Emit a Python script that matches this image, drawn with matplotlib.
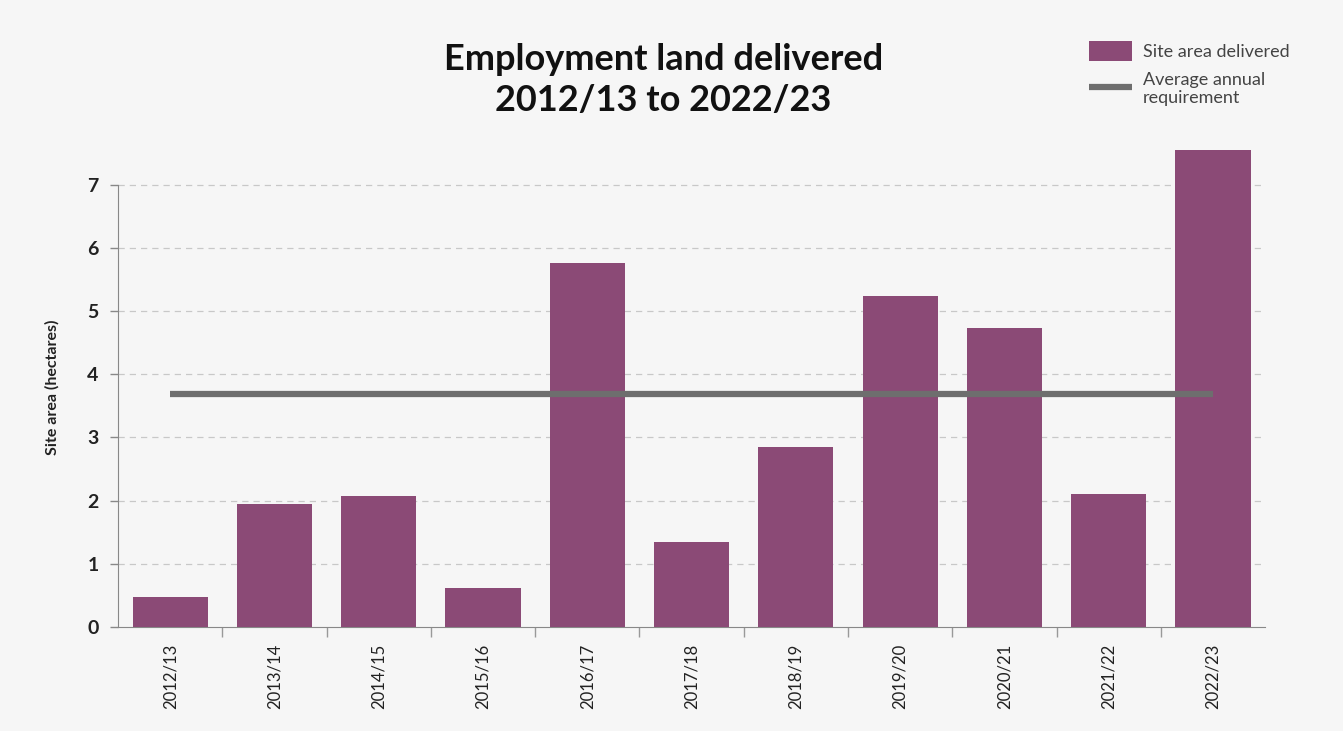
import matplotlib.pyplot as plt
import numpy as np

# Employment land delivered per monitoring year (hectares)
years = ["2012/13", "2013/14", "2014/15", "2015/16", "2016/17", "2017/18",
         "2018/19", "2019/20", "2020/21", "2021/22", "2022/23"]
site_area = [0.47, 1.95, 2.07, 0.62, 5.76, 1.34, 2.85, 5.24, 4.73, 2.10, 7.55]
requirement = 3.69  # average annual requirement

bar_colour = "#8b4a76"
line_colour = "#6e6e6e"
bg = "#f6f6f6"

plt.rcParams['font.family'] = ['Lato', 'DejaVu Sans']

fig = plt.figure(figsize=(13.43, 7.31), dpi=100, facecolor=bg)
ax = fig.add_axes([0.0879, 0.1423, 0.8541, 0.657])
ax.set_facecolor(bg)

x = np.arange(len(years))
bars = ax.bar(x, site_area, width=0.72, color=bar_colour, zorder=3,
              label="Site area delivered")
req_line, = ax.plot([x[0], x[-1]], [requirement, requirement], color=line_colour,
                    lw=4.5, solid_capstyle="butt", zorder=4,
                    label="Average annual\nrequirement")

ax.set_xlim(-0.5, len(years) - 0.5)
ax.set_ylim(0, 7.6)

# Dashed gridlines at each whole hectare
for y in range(1, 8):
    ax.axhline(y, color="#c8c8c8", lw=0.9, ls=(0, (5, 4)), zorder=1)

ax.set_yticks(range(0, 8))
ax.set_yticklabels([str(v) for v in range(0, 8)], fontsize=14, fontweight="bold",
                   color="#222222")
ax.tick_params(axis="y", length=6, width=1, color="#888888", pad=8)

# Category ticks sit between the bars, labels under the bar centres
ax.set_xticks(x[:-1] + 0.5)
ax.set_xticklabels([])
ax.set_xticks(x, minor=True)
ax.set_xticklabels(years, minor=True, rotation=90, fontsize=12, color="#222222")
ax.tick_params(axis="x", which="major", length=7, width=1, color="#999999")
ax.tick_params(axis="x", which="minor", length=0, pad=12)

for side in ["top", "right"]:
    ax.spines[side].set_visible(False)
ax.spines["left"].set_bounds(0, 7)
ax.spines["left"].set_color("#888888")
ax.spines["bottom"].set_color("#888888")

ax.set_ylabel("Site area (hectares)", fontsize=11.5, fontweight="bold",
              color="#222222", labelpad=20)

fig.text(0.494, 0.890, "Employment land delivered\n2012/13 to 2022/23",
         ha="center", va="center", fontsize=26, fontweight="bold",
         color="#111111", linespacing=1.3)

leg = ax.legend(handles=[bars, req_line], loc="upper left",
                bbox_to_anchor=(0.84, 1.235), frameon=False,
                fontsize=13, handlelength=2.4, handleheight=1.3,
                handletextpad=0.6, labelspacing=0.6, borderaxespad=0)
for t in leg.get_texts():
    t.set_color("#444444")

fig.savefig("out.png", dpi=100, facecolor=bg)
